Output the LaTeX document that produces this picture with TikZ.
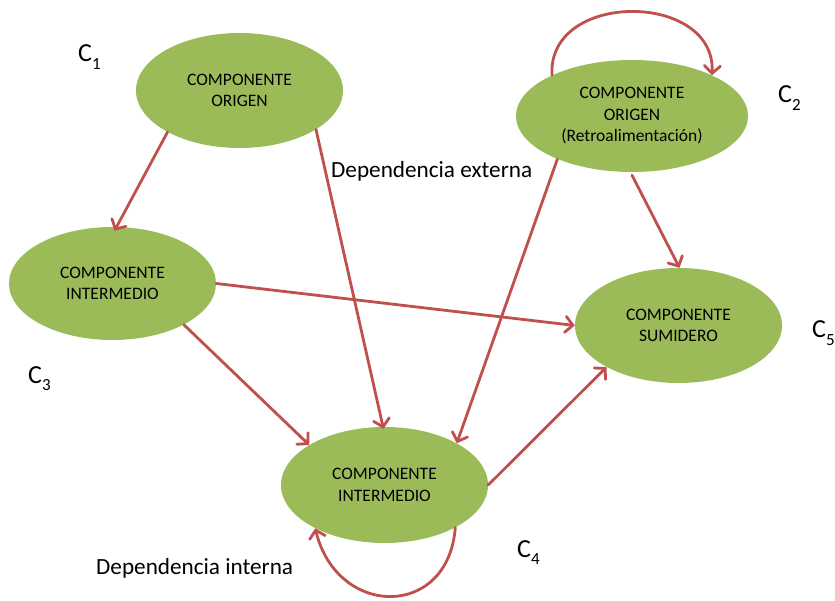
\documentclass[tikz,border=0pt]{standalone}
\usepackage{fontspec}
\setmainfont{Carlito}
\usetikzlibrary{shapes.geometric,arrows.meta}
\definecolor{compgreen}{HTML}{9BBB59}
\definecolor{edgered}{HTML}{C0504D}
\newcommand{\clabel}[1]{C\raisebox{-0.28em}{\fontsize{17}{17}\selectfont #1}}
\begin{document}
\begin{tikzpicture}[x=1pt,y=-1pt,
  comp/.style={ellipse, fill=compgreen, draw=none, inner sep=0pt, align=center,
    font=\fontsize{17.5}{21.5}\selectfont},
  arr/.style={draw=edgered, line width=2.8pt, line cap=round,
    -{Straight Barb[length=7.5pt,width=16pt,line cap=round]}},
  tag/.style={anchor=base west, inner sep=0pt, font=\fontsize{26}{26}\selectfont},
  caption/.style={anchor=base west, inner sep=0pt, font=\fontsize{23.2}{27}\selectfont}]
  \useasboundingbox[fill=white] (0,0) rectangle (835,601);

  % components
  \node[comp, minimum width=207pt, minimum height=115pt] (c1) at (239.5,90.5) {COMPONENTE\\ORIGEN};
  \node[comp, minimum width=232pt, minimum height=112pt] (c2) at (632,116) {COMPONENTE\\ORIGEN\\(Retroalimentación)};
  \node[comp, minimum width=207pt, minimum height=113pt] (c3) at (112.5,283.5) {COMPONENTE\\INTERMEDIO};
  \node[comp, minimum width=207pt, minimum height=116pt] (c4) at (384.5,485) {COMPONENTE\\INTERMEDIO};
  \node[comp, minimum width=207pt, minimum height=115pt] (c5) at (678.5,325.5) {COMPONENTE\\SUMIDERO};

  % component tags
  \node[tag] (t1) at (78,62) {\clabel{1}};
  \node[tag] (t2) at (778,103) {\clabel{2}};
  \node[tag] (t3) at (28,383) {\clabel{3}};
  \node[tag] (t4) at (517,557) {\clabel{4}};
  \node[tag] (t5) at (812,338) {\clabel{5}};

  % captions
  \node[caption] (ext) at (331,178) {Dependencia externa};
  \node[caption] (int) at (96,574) {Dependencia interna};

  % dependencies
  \draw[arr] (c1.210) -- ([yshift=-4pt]c3.88);
  \draw[arr] (c1.333) -- ([yshift=-2pt]c4.91);
  \draw[arr] (c3.east) -- (c5.west);
  \draw[arr] (c3.330) -- (c4.152);
  \draw[arr] (c2.210) -- (c4.30);
  \draw[arr] ([yshift=-3pt]c2.south) -- (c5.89);
  \draw[arr] (c4.east) -- (c5.210);

  % feedback loops
  \draw[arr] (c2.153) .. controls +(-5,-85) and +(4,-84) .. (c2.27);
  \draw[arr] (c4.329) .. controls +(-7,92) and +(22,90) .. (c4.212);
\end{tikzpicture}
\end{document}
